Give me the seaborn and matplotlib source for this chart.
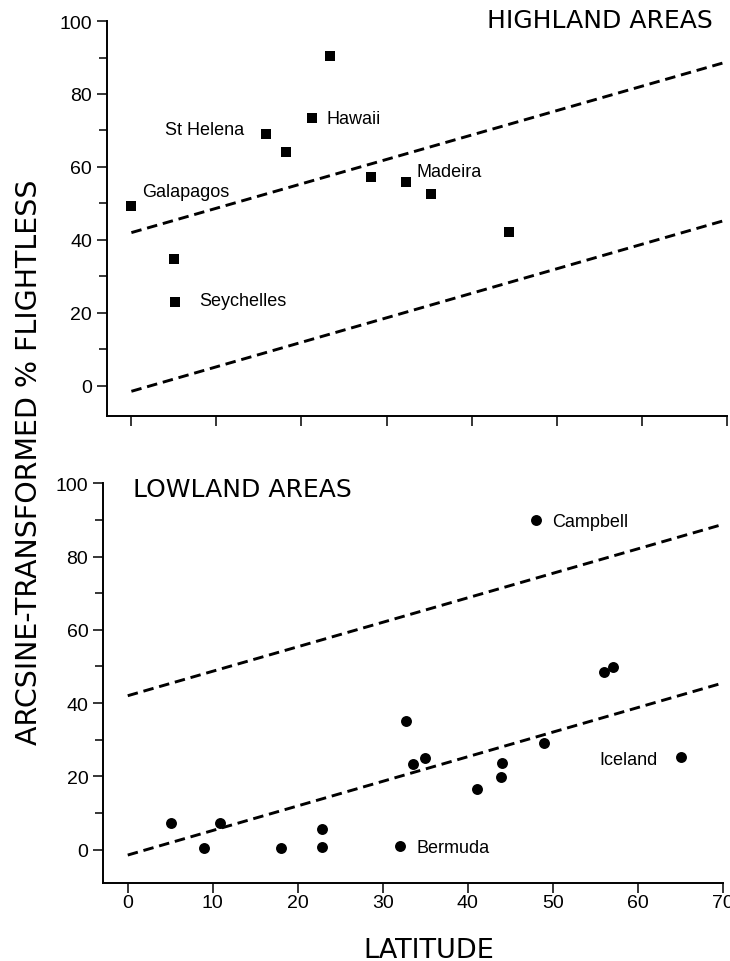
import matplotlib
matplotlib.use("Agg")
import numpy as np
import pandas as pd
import matplotlib.pyplot as plt
import seaborn as sns


# General settings
sns.set_style("ticks")
plt.rcParams["font.family"] = ["Liberation Sans", "DejaVu Sans"]
plt.rcParams["text.color"] = "black"
plt.rcParams["axes.labelcolor"] = "black"

# Data
highland_lat = [0.0, 5.0, 5.1, 15.8, 18.2, 21.2, 23.4, 28.2, 32.3, 35.2, 44.4]
highland_flightless = [49.2, 34.9, 23.0, 69.0, 64.0, 73.3, 90.5, 57.3, 55.8, 52.6, 42.3]

lowland_lat = [5.1, 9.0, 10.9, 18.0, 22.8, 22.9, 32.0, 32.7, 33.6, 35.0,
               41.1, 43.9, 44.0, 48.0, 49.0, 56.0, 57.1, 65.1]
lowland_flightless = [7.3, 0.5, 7.3, 0.5, 5.5, 0.7, 0.9, 35.2, 23.4, 24.9,
                      16.4, 19.8, 23.7, 90.0, 29.1, 48.4, 49.8, 25.2]

line_lat = [0, 70]
lower_line = [-1.5, 45.5]
upper_line = [42.0, 88.8]

x_ticks = [0, 10, 20, 30, 40, 50, 60, 70]
y_ticks = [0, 20, 40, 60, 80, 100]
y_minor = [10, 30, 50, 70, 90]

highland_labels = [
    ("St Helena", 13.3, 69.1, "right"),
    ("Hawaii", 22.9, 72.0, "left"),
    ("Galapagos", 1.3, 51.9, "left"),
    ("Seychelles", 8.0, 22.1, "left"),
    ("Madeira", 33.5, 57.6, "left"),
]
lowland_labels = [
    ("Campbell", 49.9, 88.3, "left"),
    ("Iceland", 55.5, 23.4, "left"),
    ("Bermuda", 33.9, -0.7, "left"),
]

HEAD_FONT = "DejaVu Sans"


def style_axes(ax, ylim_low, show_xlabels):
    ax.set_xlim(-2.9, 70)
    ax.set_ylim(ylim_low, 100)
    ax.set_xticks(x_ticks)
    ax.set_yticks(y_ticks)
    ax.set_yticks(y_minor, minor=True)
    ax.set_xlabel("")
    ax.set_ylabel("")
    sns.despine(ax=ax)
    for side in ["left", "bottom"]:
        ax.spines[side].set_linewidth(1.4)
        ax.spines[side].set_color("black")
    ax.tick_params(axis="both", which="major", direction="out", length=7,
                   width=1.1, color="black", labelsize=14, labelcolor="black")
    ax.tick_params(axis="y", which="minor", direction="out", length=6,
                   width=1.1, color="black")
    ax.tick_params(axis="y", which="major", pad=3.6)
    ax.tick_params(axis="x", which="major", pad=0.8)
    if not show_xlabels:
        ax.set_xticklabels([])


def draw_lines(ax):
    lines = pd.DataFrame({"lat": line_lat, "lower": lower_line, "upper": upper_line})
    for col in ["lower", "upper"]:
        sns.lineplot(data=lines, x="lat", y=col, ax=ax, color="black",
                     linewidth=2.1, linestyle=(0, (3.6, 2.0)))


def plot_highland(ax):
    df = pd.DataFrame({"lat": highland_lat, "flightless": highland_flightless})
    draw_lines(ax)
    sns.scatterplot(data=df, x="lat", y="flightless", ax=ax, marker="s",
                    s=58, color="black", linewidth=0, zorder=3)
    for name, x, y, ha in highland_labels:
        ax.text(x, y, name, ha=ha, va="baseline", fontsize=13, color="black")
    ax.text(68.4, 98.3, "HIGHLAND AREAS", ha="right", va="baseline",
            fontsize=18, family=HEAD_FONT, color="black")
    style_axes(ax, -8.2, False)


def plot_lowland(ax):
    df = pd.DataFrame({"lat": lowland_lat, "flightless": lowland_flightless})
    draw_lines(ax)
    sns.scatterplot(data=df, x="lat", y="flightless", ax=ax, marker="o",
                    s=62, color="black", linewidth=0, zorder=3)
    for name, x, y, ha in lowland_labels:
        ax.text(x, y, name, ha=ha, va="baseline", fontsize=13, color="black")
    ax.text(0.6, 96.6, "LOWLAND AREAS", ha="left", va="baseline",
            fontsize=18, family=HEAD_FONT, color="black")
    style_axes(ax, -9.2, True)


def main():
    fig = plt.figure(figsize=(7.3, 9.62), dpi=100)
    ax_top = fig.add_axes([0.1462, 0.5668, 0.8493, 0.4103])
    ax_bottom = fig.add_axes([0.1412, 0.0808, 0.8493, 0.4158])

    plot_highland(ax_top)
    plot_lowland(ax_bottom)

    fig.text(0.040, 0.52, "ARCSINE-TRANSFORMED % FLIGHTLESS", rotation=90,
             ha="center", va="center", fontsize=20.5, family=HEAD_FONT,
             color="black")
    fig.text(0.588, 0.0045, "LATITUDE", ha="center", va="baseline",
             fontsize=19.5, family=HEAD_FONT, color="black")

    fig.savefig("out.png", dpi=100)
    plt.close(fig)


if __name__ == "__main__":
    main()
